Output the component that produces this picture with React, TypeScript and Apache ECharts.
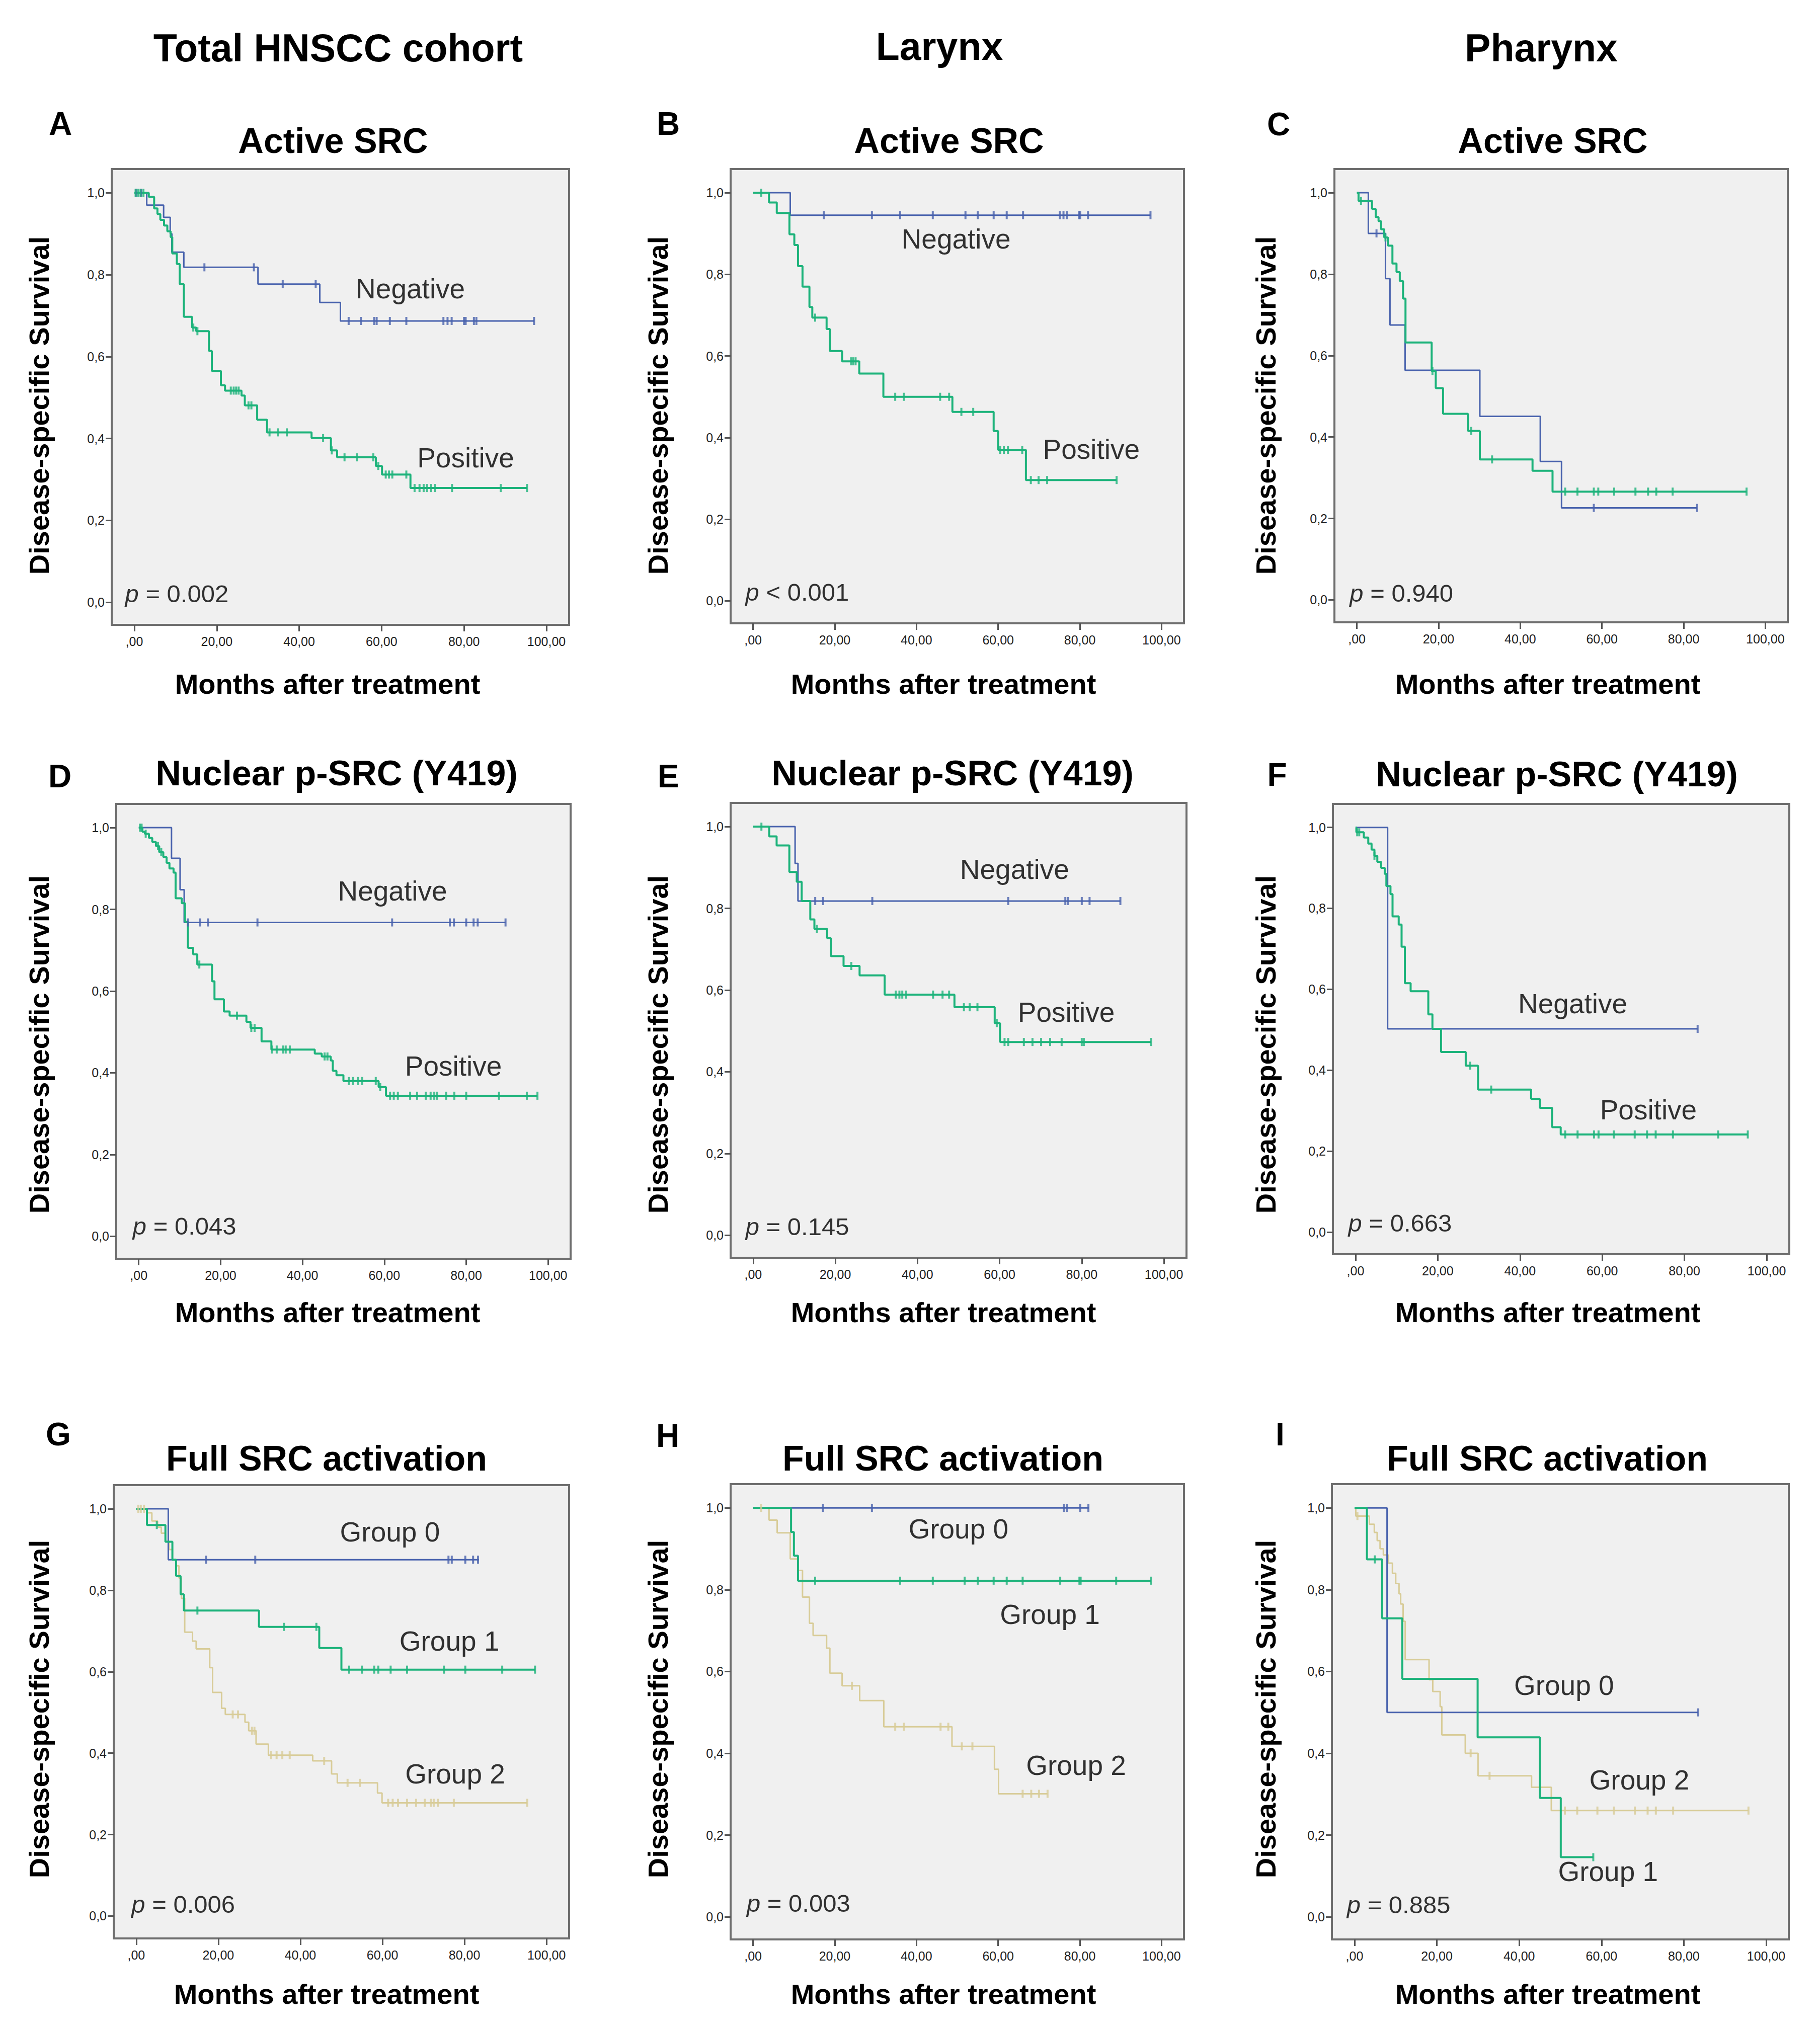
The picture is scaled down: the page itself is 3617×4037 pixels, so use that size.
import React, { useEffect, useRef } from "react";
import * as echarts from "echarts";

const W = 3617;
const H = 4037;
const FONT = "'Liberation Sans', Arial, Helvetica, sans-serif";

// ---------- tick labels ----------
const xTicks = [0, 20, 40, 60, 80, 100];
const yTicks = [0, 0.2, 0.4, 0.6, 0.8, 1.0];

// ---------- texts ----------
const columnTitles = ["Total HNSCC cohort", "Larynx", "Pharynx"];
const panelLetters = ["A", "B", "C", "D", "E", "F", "G", "H", "I"];
const panelTitles = [
  "Active SRC", "Active SRC", "Active SRC",
  "Nuclear p-SRC (Y419)", "Nuclear p-SRC (Y419)", "Nuclear p-SRC (Y419)",
  "Full SRC activation", "Full SRC activation", "Full SRC activation",
];
const pValues = ["= 0.002", "< 0.001", "= 0.940", "= 0.043", "= 0.145", "= 0.663", "= 0.006", "= 0.003", "= 0.885"];

// ---------- Panel A ----------
const A_negSteps = [[0, 1], [3, 0.97], [7.1, 0.94], [8.7, 0.9], [9.1, 0.855], [12, 0.818], [30, 0.777], [45, 0.732], [50, 0.687]];
const A_negEnd = 97;
const A_negCensor = [0.4, 1.6, 17, 29, 36, 44, 52, 55, 58.2, 58.8, 62, 66, 75, 76, 77, 80, 80.4, 82.4, 83, 97];
const A_posSteps = [[0, 1], [3.5, 0.99], [4.8, 0.962], [5.6, 0.948], [6.3, 0.934], [7.2, 0.92], [8.0, 0.906], [8.8, 0.892], [9.2, 0.852], [10.3, 0.826], [11, 0.777], [12, 0.697], [14, 0.671], [15, 0.662], [18.1, 0.614], [18.8, 0.565], [21, 0.53], [22, 0.517], [26, 0.505], [26.8, 0.481], [29.8, 0.446], [32.2, 0.415], [43, 0.401], [47.7, 0.371], [49.2, 0.354], [58.6, 0.333], [60.1, 0.312], [67, 0.279]];
const A_posEnd = 95.3;
const A_posCensor = [0.3, 0.9, 1.5, 2.2, 14.3, 15.3, 23.4, 24.1, 24.7, 25.3, 27.7, 28.4, 32.8, 34.8, 37, 45.8, 47.9, 51, 54, 58, 59.2, 61, 61.8, 62.6, 66, 68, 69.2, 70.2, 71, 72, 73, 77.1, 88.9, 95.3];

// ---------- Panel B ----------
const B_negSteps = [[0, 1], [9.1, 0.945]];
const B_negEnd = 97.3;
const B_negCensor = [17.3, 29.1, 36, 44, 52, 55, 58.9, 62.1, 66.1, 75.1, 76, 76.8, 79.8, 80.1, 82, 97.3];
const B_posSteps = [[0, 1], [3.9, 0.976], [5.8, 0.95], [8.9, 0.898], [10.1, 0.872], [11, 0.82], [12.1, 0.77], [13.8, 0.72], [14.5, 0.694], [18, 0.666], [18.8, 0.612], [21.8, 0.587], [26, 0.557], [31.9, 0.5], [48.8, 0.463], [58.9, 0.416], [60, 0.37], [66.8, 0.296]];
const B_posEnd = 89;
const B_posCensor = [2, 15.2, 24, 24.5, 25.1, 34.8, 36.9, 45.8, 48, 51, 53.9, 60.5, 61.4, 62.4, 65.9, 68, 69.9, 72, 89];

// ---------- Panel C ----------
const C_negSteps = [[0, 1], [2.8, 0.9], [7, 0.789], [8.1, 0.675], [11.8, 0.564], [30.1, 0.451], [44.9, 0.34], [50.1, 0.226]];
const C_negEnd = 83.3;
const C_negCensor = [4.8, 58, 83.3];
const C_posSteps = [[0, 1], [0.4, 0.98], [3.7, 0.96], [4.6, 0.94], [5.3, 0.93], [5.9, 0.91], [6.7, 0.89], [7.6, 0.87], [8.7, 0.826], [9.7, 0.805], [10.5, 0.783], [11.3, 0.74], [11.9, 0.632], [18.3, 0.562], [19.3, 0.52], [21.1, 0.457], [27.2, 0.415], [30.1, 0.345], [43, 0.317], [47.9, 0.266]];
const C_posEnd = 95.4;
const C_posCensor = [1, 7, 18.5, 28, 33.1, 51, 54, 58, 59.1, 63, 68.2, 71.3, 73.3, 77.3, 95.4];

// ---------- Panel D ----------
const D_negSteps = [[0, 1], [8, 0.925], [10.1, 0.848], [11.1, 0.768]];
const D_negEnd = 89.6;
const D_negCensor = [12, 15, 16.9, 29, 61.9, 76, 77, 80, 81.8, 82.8, 89.6];
const D_posSteps = [[0, 1], [0.9, 0.99], [1.5, 0.985], [2.5, 0.975], [3.3, 0.965], [4.2, 0.955], [5, 0.94], [6, 0.928], [6.8, 0.914], [7.5, 0.9], [8.5, 0.89], [9, 0.827], [10.5, 0.815], [11.3, 0.77], [12, 0.706], [13.3, 0.69], [14.3, 0.665], [17.9, 0.624], [18.5, 0.58], [20.8, 0.55], [22.2, 0.54], [26.3, 0.525], [27.3, 0.51], [30, 0.477], [32.4, 0.457], [43, 0.447], [44.7, 0.44], [46.9, 0.43], [47.4, 0.405], [48.3, 0.394], [50, 0.38], [58.6, 0.365], [60.4, 0.344]];
const D_posEnd = 97.4;
const D_posCensor = [0.3, 0.7, 1.7, 4.7, 5.5, 14.8, 24, 27.5, 28.3, 32.5, 33.7, 35.3, 35.9, 36.9, 45.4, 46.1, 51.3, 52.3, 53.6, 54.6, 57.9, 59, 61.4, 62.3, 63.3, 66.3, 68, 70.1, 71.3, 72.2, 72.9, 75.1, 77.1, 80, 88, 94.8, 97.4];

// ---------- Panel E ----------
const E_negSteps = [[0, 1], [10.2, 0.91], [10.9, 0.818]];
const E_negEnd = 89.4;
const E_negCensor = [15.1, 17, 29, 62.1, 76, 76.7, 80, 81.9, 89.4];
const E_posSteps = [[0, 1], [3.9, 0.976], [5.7, 0.954], [8.8, 0.889], [10.6, 0.865], [11.8, 0.818], [13.9, 0.773], [14.9, 0.75], [18, 0.727], [18.9, 0.683], [22, 0.659], [25.9, 0.636], [32, 0.589], [49, 0.558], [58.8, 0.519], [60.1, 0.473]];
const E_posEnd = 96.9;
const E_posCensor = [2, 15.5, 23.9, 34.7, 35.6, 36.3, 37.2, 43.8, 46.1, 47.7, 51.3, 52.7, 54.6, 59.3, 61.2, 62.1, 65.9, 68, 70.1, 72.3, 75.1, 80, 80.5, 96.9];

// ---------- Panel F ----------
const F_negSteps = [[0, 1], [7.8, 0.502]];
const F_negEnd = 83.2;
const F_negCensor = [83.2];
const F_posSteps = [[0, 1], [0.2, 0.988], [2, 0.975], [3.1, 0.96], [3.9, 0.945], [4.6, 0.93], [5.3, 0.915], [6.2, 0.9], [7.1, 0.885], [7.5, 0.855], [8.5, 0.835], [9, 0.78], [10.5, 0.76], [11.2, 0.705], [12, 0.615], [13.4, 0.595], [17.7, 0.538], [18.7, 0.502], [20.8, 0.445], [26.8, 0.411], [29.8, 0.352], [42.7, 0.329], [44.8, 0.307], [47.8, 0.259], [49.9, 0.241]];
const F_posEnd = 95.4;
const F_posCensor = [0.4, 0.9, 4.6, 27.9, 33, 51, 54, 58, 59.1, 62.8, 67.9, 70.9, 73, 77.2, 88.2, 95.4];

// ---------- Panel G ----------
const G_g0Steps = [[0, 1], [7.8, 0.875]];
const G_g0End = 83.5;
const G_g0Censor = [17, 29, 76.1, 76.9, 80.2, 82.1, 83.3];
const G_g1Steps = [[0, 1], [2.6, 0.96], [7.1, 0.919], [8.8, 0.875], [9.7, 0.835], [10.8, 0.79], [11.6, 0.75], [29.9, 0.71], [44.6, 0.658], [50, 0.605]];
const G_g1End = 97.2;
const G_g1Censor = [5, 14.9, 36, 43.9, 51.9, 55, 58, 59, 62, 66, 75, 80.2, 89.2, 97.2];
const G_g2Steps = [[0, 1], [2.6, 0.99], [3.8, 0.97], [5.2, 0.955], [6.1, 0.94], [7.1, 0.92], [8, 0.9], [8.8, 0.875], [9.7, 0.86], [10.4, 0.83], [11, 0.78], [11.8, 0.697], [13.7, 0.675], [14.6, 0.656], [17.9, 0.61], [18.6, 0.549], [20.8, 0.51], [21.7, 0.495], [26.5, 0.476], [27.4, 0.455], [29.2, 0.422], [32.2, 0.395], [43, 0.381], [47.6, 0.349], [49, 0.327], [58.8, 0.302], [59.9, 0.278]];
const G_g2End = 95.3;
const G_g2Censor = [0.5, 1.1, 1.9, 23.5, 24.8, 28.2, 28.8, 32.8, 34.2, 35.6, 37.4, 45.8, 51.5, 54.5, 61.4, 62.5, 63.8, 66, 68.2, 70.3, 71.8, 72.5, 73.5, 77.4, 95.3];

// ---------- Panel H ----------
const H_g0Steps = [[0, 1]];
const H_g0End = 82.2;
const H_g0Censor = [17.1, 29.1, 76.1, 76.8, 80.1, 82.1];
const H_g1Steps = [[0, 1], [9.3, 0.941], [10, 0.883], [11, 0.822]];
const H_g1End = 97.4;
const H_g1Censor = [15.2, 36, 44, 51.8, 55, 58.9, 62.1, 66, 75.2, 79.9, 80.2, 88.9, 97.4];
const H_g2Steps = [[0, 1], [3.9, 0.97], [5.9, 0.939], [9.1, 0.875], [11, 0.847], [12.1, 0.782], [13.8, 0.718], [14.7, 0.688], [18, 0.657], [18.8, 0.596], [21.8, 0.565], [26.1, 0.529], [32, 0.465], [48.7, 0.417], [59.1, 0.361], [60.1, 0.301]];
const H_g2End = 72.1;
const H_g2Censor = [2, 24.2, 34.8, 36.9, 45.9, 47.8, 51.1, 53.7, 66, 68.1, 70, 72.1];

// ---------- Panel I ----------
const I_g0Steps = [[0, 1], [7.9, 0.5]];
const I_g0End = 83.5;
const I_g0Censor = [83.5];
const I_g1Steps = [[0, 1], [3, 0.874], [6.7, 0.73], [11.6, 0.582], [29.9, 0.439], [45, 0.291], [50.1, 0.146]];
const I_g1End = 58;
const I_g1Censor = [4.9, 58];
const I_g2Steps = [[0, 1], [0.3, 0.98], [3.6, 0.96], [4.8, 0.94], [5.5, 0.92], [6.2, 0.9], [7, 0.885], [8.2, 0.865], [9.2, 0.84], [10, 0.815], [10.8, 0.79], [11.2, 0.765], [11.8, 0.723], [12.3, 0.629], [18.1, 0.58], [19, 0.551], [20.8, 0.514], [21.2, 0.445], [26.9, 0.4], [30, 0.345], [43, 0.317], [47.8, 0.26]];
const I_g2End = 95.7;
const I_g2Censor = [0.7, 28.2, 32.8, 51.1, 54.1, 59, 63, 68.1, 71.2, 73.2, 77.4, 95.7];

// ---------- curve label anchors (data coords: left, baseline) ----------
const A_labels = [["Negative", 53.8, 0.742], ["Positive", 68.7, 0.329]];
const B_labels = [["Negative", 36.4, 0.863], ["Positive", 71, 0.348]];
const C_labels: any[] = [];
const D_labels = [["Negative", 48.7, 0.821], ["Positive", 65.1, 0.393]];
const E_labels = [["Negative", 50.4, 0.872], ["Positive", 64.5, 0.522]];
const F_labels = [["Negative", 39.6, 0.54], ["Positive", 59.5, 0.278]];
const G_labels = [["Group 0", 49.7, 0.919], ["Group 1", 64.2, 0.651], ["Group 2", 65.6, 0.325]];
const H_labels = [["Group 0", 38.1, 0.924], ["Group 1", 60.5, 0.716], ["Group 2", 66.9, 0.347]];
const I_labels = [["Group 0", 38.8, 0.542], ["Group 2", 57.1, 0.311], ["Group 1", 49.5, 0.087]];
const pAnchor = [[-2.2, 0.0], [-1.8, 0.0], [-1.7, -0.005], [-1.4, 0.003], [-1.8, 0.0], [-1.7, 0.0], [-1.1, 0.008], [-1.5, 0.012], [-1.8, 0.008]];

// ---------- layout (pixels) ----------
const BOXES = [
  [222, 336, 1131, 1242], [1452, 336, 2353, 1239], [2652, 336, 3553, 1237],
  [231, 1598, 1134, 2502], [1452, 1596, 2358, 2500], [2649, 1598, 3556, 2493],
  [226, 2952, 1131, 3853], [1452, 2950, 2353, 3855], [2647, 2950, 3555, 3855],
];
const COL_TITLE_POS = [[672, 95], [1867, 92], [3063, 95]];
const LETTER_POS = [[120, 246], [1328, 246], [2541, 247], [119, 1543], [1328, 1543], [2538, 1540], [116, 2851], [1327, 2854], [2544, 2851]];
const TITLE_POS = [[662, 280], [1886, 280], [3086, 280], [669, 1537], [1893, 1537], [3094, 1539], [649, 2899], [1874, 2899], [3075, 2899]];
const XTITLE_POS = [[651, 1359], [1875, 1359], [3076, 1359], [651, 2608], [1875, 2608], [3076, 2608], [649, 3963], [1875, 3963], [3076, 3963]];
const YTITLE_POS = [[77, 806], [1307, 806], [2515, 806], [77, 2076], [1307, 2076], [2515, 2076], [77, 3397], [1307, 3397], [2515, 3397]];

const BLUE = "#4862ad";
const GREEN = "#1db37b";
const BEIGE = "#d8cc98";

type Curve = { steps: number[][]; end: number; censor: number[]; color: string; width: number };

const PANELS: { curves: Curve[]; labels: any[] }[] = [
  { curves: [{ steps: A_negSteps, end: A_negEnd, censor: A_negCensor, color: BLUE, width: 3 }, { steps: A_posSteps, end: A_posEnd, censor: A_posCensor, color: GREEN, width: 4 }], labels: A_labels },
  { curves: [{ steps: B_negSteps, end: B_negEnd, censor: B_negCensor, color: BLUE, width: 3 }, { steps: B_posSteps, end: B_posEnd, censor: B_posCensor, color: GREEN, width: 4 }], labels: B_labels },
  { curves: [{ steps: C_negSteps, end: C_negEnd, censor: C_negCensor, color: BLUE, width: 3 }, { steps: C_posSteps, end: C_posEnd, censor: C_posCensor, color: GREEN, width: 4 }], labels: C_labels },
  { curves: [{ steps: D_negSteps, end: D_negEnd, censor: D_negCensor, color: BLUE, width: 3 }, { steps: D_posSteps, end: D_posEnd, censor: D_posCensor, color: GREEN, width: 4 }], labels: D_labels },
  { curves: [{ steps: E_negSteps, end: E_negEnd, censor: E_negCensor, color: BLUE, width: 3 }, { steps: E_posSteps, end: E_posEnd, censor: E_posCensor, color: GREEN, width: 4 }], labels: E_labels },
  { curves: [{ steps: F_negSteps, end: F_negEnd, censor: F_negCensor, color: BLUE, width: 3 }, { steps: F_posSteps, end: F_posEnd, censor: F_posCensor, color: GREEN, width: 4 }], labels: F_labels },
  { curves: [{ steps: G_g2Steps, end: G_g2End, censor: G_g2Censor, color: BEIGE, width: 3 }, { steps: G_g0Steps, end: G_g0End, censor: G_g0Censor, color: BLUE, width: 3 }, { steps: G_g1Steps, end: G_g1End, censor: G_g1Censor, color: GREEN, width: 4 }], labels: G_labels },
  { curves: [{ steps: H_g2Steps, end: H_g2End, censor: H_g2Censor, color: BEIGE, width: 3 }, { steps: H_g0Steps, end: H_g0End, censor: H_g0Censor, color: BLUE, width: 3 }, { steps: H_g1Steps, end: H_g1End, censor: H_g1Censor, color: GREEN, width: 4 }], labels: H_labels },
  { curves: [{ steps: I_g2Steps, end: I_g2End, censor: I_g2Censor, color: BEIGE, width: 3 }, { steps: I_g0Steps, end: I_g0End, censor: I_g0Censor, color: BLUE, width: 3 }, { steps: I_g1Steps, end: I_g1End, censor: I_g1Censor, color: GREEN, width: 4 }], labels: I_labels },
];

function survAt(steps: number[][], t: number) {
  let s = 1;
  for (const [x, y] of steps) if (x <= t) s = y;
  return s;
}

function txt(x: number, y: number, text: string, font: string, extra: any = {}) {
  return {
    type: "text",
    x,
    y,
    silent: true,
    ...extra,
    style: {
      text,
      font,
      fill: "#000",
      align: "center",
      verticalAlign: "middle",
      textAlign: "center",
      textVerticalAlign: "middle",
    },
  };
}

function buildOption() {
  const grid: any[] = [];
  const xAxis: any[] = [];
  const yAxis: any[] = [];
  const series: any[] = [];
  const graphic: any[] = [];

  columnTitles.forEach((t, i) => graphic.push(txt(COL_TITLE_POS[i][0], COL_TITLE_POS[i][1], t, `bold 77px ${FONT}`)));

  PANELS.forEach((p, i) => {
    const [l, t, r, b] = BOXES[i];
    grid.push({
      left: l, top: t, width: r - l, height: b - t,
      show: true, backgroundColor: "#f0f0f0", borderColor: "#6e6e6e", borderWidth: 4,
      containLabel: false,
    });
    xAxis.push({
      type: "value", gridIndex: i, min: -5.5, max: 105.5,
      axisLine: { show: false, onZero: false },
      splitLine: { show: false },
      axisTick: { show: true, customValues: xTicks, length: 13, lineStyle: { color: "#555", width: 3 } },
      axisLabel: {
        customValues: xTicks, margin: 20, fontSize: 25, color: "#222", fontFamily: FONT,
        formatter: (v: number) => (v === 0 ? ",00" : `${v},00`),
      },
    });
    yAxis.push({
      type: "value", gridIndex: i, min: -0.055, max: 1.058,
      axisLine: { show: false, onZero: false },
      splitLine: { show: false },
      axisTick: { show: true, customValues: yTicks, length: 12, lineStyle: { color: "#555", width: 3 } },
      axisLabel: {
        customValues: yTicks, margin: 14, fontSize: 25, color: "#222", fontFamily: FONT,
        formatter: (v: number) => v.toFixed(1).replace(".", ","),
      },
    });

    p.curves.forEach((c) => {
      const last = c.steps[c.steps.length - 1][1];
      series.push({
        type: "line", xAxisIndex: i, yAxisIndex: i, step: "end",
        data: [...c.steps, [c.end, last]],
        showSymbol: false, symbol: "none", silent: true,
        lineStyle: { color: c.color, width: c.width },
        z: 3,
      });
      series.push({
        type: "scatter", xAxisIndex: i, yAxisIndex: i, silent: true,
        data: c.censor.map((tt) => [tt, survAt(c.steps, tt)]),
        symbol: "rect", symbolSize: [4, 16],
        itemStyle: { color: c.color },
        z: 4,
      });
    });

    const labelData: any[] = p.labels.map((lb: any) => ({
      value: [lb[1], lb[2]],
      label: { formatter: lb[0], fontSize: 55, offset: [0, -19] },
    }));
    labelData.push({
      value: pAnchor[i],
      label: {
        formatter: `{i|p} ${pValues[i]}`, fontSize: 49, offset: [0, -17],
        rich: { i: { fontStyle: "italic", fontSize: 49, fontFamily: FONT, color: "#000" } },
      },
    });
    series.push({
      type: "scatter", xAxisIndex: i, yAxisIndex: i, silent: true,
      symbol: "circle", symbolSize: 1, itemStyle: { color: "rgba(0,0,0,0)" },
      data: labelData,
      label: { show: true, position: [0, 0], align: "left", verticalAlign: "middle", color: "#000", fontFamily: FONT },
      z: 10,
    });

    graphic.push(txt(LETTER_POS[i][0], LETTER_POS[i][1], panelLetters[i], `bold 64px ${FONT}`));
    graphic.push(txt(TITLE_POS[i][0], TITLE_POS[i][1], panelTitles[i], `bold 70px ${FONT}`));
    graphic.push(txt(XTITLE_POS[i][0], XTITLE_POS[i][1], "Months after treatment", `bold 56px ${FONT}`));
    graphic.push(txt(YTITLE_POS[i][0], YTITLE_POS[i][1], "Disease-specific Survival", `bold 56px ${FONT}`, { rotation: Math.PI / 2 }));
  });

  return { animation: false, backgroundColor: "#ffffff", grid, xAxis, yAxis, series, graphic };
}

export default function App() {
  const ref = useRef<HTMLDivElement>(null);
  useEffect(() => {
    document.body.style.margin = "0";
    if (!ref.current) return;
    const chart = echarts.init(ref.current, undefined, { renderer: "svg" });
    chart.setOption(buildOption() as any);
    return () => chart.dispose();
  }, []);
  return <div ref={ref} style={{ width: W, height: H }} />;
}
